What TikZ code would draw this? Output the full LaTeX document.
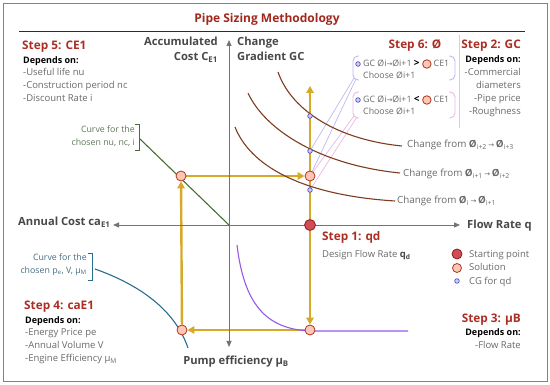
\documentclass[tikz,border=0pt]{standalone}
\usepackage{fontspec}
\setmainfont{Open Sans}
\newfontfamily\symf{DejaVu Sans}
\usetikzlibrary{arrows.meta,positioning}
\pgfdeclarelayer{bg}
\pgfsetlayers{bg,main}
\definecolor{titlered}{RGB}{160,40,30}
\definecolor{stepred}{RGB}{172,45,35}
\definecolor{rulebrown}{RGB}{60,40,30}
\definecolor{axisgray}{RGB}{115,115,115}
\definecolor{textgray}{RGB}{105,105,105}
\definecolor{axlabgray}{RGB}{72,72,72}
\definecolor{gold}{RGB}{214,170,40}
\definecolor{curvebrown}{RGB}{125,60,30}
\definecolor{lgreen}{RGB}{70,110,50}
\definecolor{tealc}{RGB}{40,110,140}
\definecolor{purp}{RGB}{150,90,230}
\definecolor{solfill}{RGB}{250,200,180}
\definecolor{soldraw}{RGB}{180,50,30}
\definecolor{startfill}{RGB}{210,75,85}
\definecolor{startdraw}{RGB}{140,30,30}
\definecolor{cgdraw}{RGB}{75,75,200}
\definecolor{cgfill}{RGB}{205,205,245}
\definecolor{lav}{RGB}{190,185,240}
\definecolor{pinkl}{RGB}{232,185,228}
\definecolor{framegray}{RGB}{130,130,130}
\definecolor{greentext}{RGB}{95,120,90}
\definecolor{tealtext}{RGB}{70,110,130}
\newcommand{\myarr}{{\symf\fontsize{7}{8}\selectfont →}}
\begin{document}
\begin{tikzpicture}[x=1pt,y=-1pt,
  txt/.style={inner sep=0pt, text height=0.75em, text depth=0.22em},
  axlab/.style={txt, font=\bfseries\fontsize{11.2}{13}\selectfont, text=axlabgray},
  steptitle/.style={txt, font=\bfseries\fontsize{11.8}{13}\selectfont, text=stepred},
  deps/.style={txt, font=\bfseries\fontsize{9}{11}\selectfont, text=black},
  item/.style={txt, font=\fontsize{9.5}{11}\selectfont, text=textgray},
  small/.style={txt, font=\fontsize{8.8}{10}\selectfont, text=textgray},
  chg/.style={txt, font=\fontsize{9.8}{11}\selectfont, text=textgray},
  axis/.style={draw=axisgray, line width=0.8pt, -{Triangle[length=6pt,width=5pt]}},
  ypath/.style={draw=gold, line width=2.4pt},
  yarr/.style={-{Triangle[length=7pt,width=7.5pt]}},
  sol/.style={circle, draw=soldraw, fill=solfill, line width=0.8pt, minimum size=10pt, inner sep=0pt},
  solsm/.style={circle, draw=soldraw, fill=solfill, line width=0.8pt, minimum size=8.5pt, inner sep=0pt},
  startpt/.style={circle, draw=startdraw, fill=startfill, line width=0.8pt, minimum size=11pt, inner sep=0pt},
  cg/.style={circle, draw=cgdraw, fill=cgfill, line width=0.7pt, minimum size=4.6pt, inner sep=0pt},
  crv/.style={line width=1.1pt}
]
\useasboundingbox (0,0) rectangle (550,385);
\draw[framegray, line width=0.8pt] (3,3) rectangle (547,381);

% title
\node[txt, font=\bfseries\fontsize{12}{14}\selectfont, text=titlered] (title) at (267,20) {Pipe Sizing Methodology};
\coordinate (rl) at (19,32);
\coordinate (rr) at (525,32);
\draw[rulebrown, line width=1pt] (rl) -- (rr);
\coordinate (dvt) at (459,35);
\coordinate (dvb) at (459,128);
\draw[gray!35, line width=0.8pt] (dvt) -- (dvb);

% axes
\coordinate (O) at (229,225);
\coordinate (axtop) at (229,40);
\coordinate (axbot) at (229,347);
\coordinate (axleft) at (113,225);
\coordinate (axright) at (460,225);
\draw[axis] (O) -- (axtop);
\draw[axis] (O) -- (axbot);
\draw[axis] (O) -- (axleft);
\draw[axis] (O) -- (axright);

\node[axlab, anchor=east] (accu) at (218,43) {Accumulated};
\node[axlab, anchor=east] (cost) at (218,58) {Cost C\textsubscript{E1}};
\node[axlab, anchor=west] (chg) at (237,43) {Change};
\node[axlab, anchor=west] (grad) at (237,58) {Gradient GC};
\node[axlab, anchor=west] (annual) at (18,223) {Annual Cost ca\textsubscript{E1}};
\node[axlab, anchor=west] (flow) at (467,226) {Flow Rate q};
\node[axlab] (pump) at (236,362) {Pump efficiency μ\textsubscript{B}};

% curves
\draw[curvebrown, crv] (278,72) .. controls (292,112) and (340,140) .. (402,146);
\draw[curvebrown, crv] (248,93) .. controls (265,130) and (320,165) .. (400,173);
\draw[curvebrown, crv] (235,127) .. controls (250,165) and (300,195) .. (395,201);
\node[chg, anchor=west] (c1) at (407,145) {Change from \textbf{Ø}\textsubscript{i+2}\,\myarr\,\textbf{Ø}\textsubscript{i+3}};
\node[chg, anchor=west] (c2) at (403,174) {Change from \textbf{Ø}\textsubscript{i+1}\,\myarr\,\textbf{Ø}\textsubscript{i+2}};
\node[chg, anchor=west] (c3) at (397,201) {Change from \textbf{Ø}\textsubscript{i}\,\myarr\,\textbf{Ø}\textsubscript{i+1}};

% green line
\coordinate (gs) at (140,139);
\draw[lgreen, crv] (gs) -- (O);
\draw[lgreen, line width=0.9pt] (135,124) -- (139,124) -- (139,150) -- (135,150);
\node[small, text=greentext, anchor=east] (g1) at (135,130) {Curve for the};
\node[small, text=greentext, anchor=east] (g2) at (135,143) {chosen nu, nc, i};

% teal curve
\draw[tealc, crv] (95,269) .. controls (140,285) and (175,310) .. (188,348);
\draw[tealc, line width=0.9pt] (88,253) -- (92,253) -- (92,280) -- (88,280);
\node[small, text=tealtext, anchor=east] (t1) at (87,258) {Curve for the};
\node[small, text=tealtext, anchor=east] (t2) at (87,271) {chosen p\textsubscript{e}, V, μ\textsubscript{M}};

% purple curve
\draw[purp, crv] (237,245) .. controls (244,303) and (265,329) .. (310,331) -- (408,331);

% points
\node[startpt] (S) at (310,225) {};
\node[sol] (P1) at (310,330) {};
\node[sol] (P2) at (182,330) {};
\node[sol] (P3) at (181,176) {};
\node[sol] (P4) at (310,176) {};
\node[cg] (B1) at (310,116) {};
\node[cg] (B2) at (310,151) {};
\node[cg] (B3) at (310,190) {};
\coordinate (T) at (310,86);

\begin{pgfonlayer}{bg}
\draw[ypath, yarr] (S) -- (T);
\draw[ypath, yarr] (S) -- (P1);
\draw[ypath, yarr] (P1) -- (P2);
\draw[ypath, yarr] (P2) -- (P3);
\draw[ypath, yarr] (P3) -- (P4);
\end{pgfonlayer}

% step 6 boxes
\draw[lav, line width=0.9pt, rounded corners=5pt] (359,56) -- (353,56) -- (353,80) -- (359,80);
\draw[lav, line width=0.9pt, rounded corners=5pt] (449,56) -- (455,56) -- (455,80) -- (449,80);
\draw[pinkl, line width=0.9pt, rounded corners=5pt] (359,92) -- (353,92) -- (353,118) -- (359,118);
\draw[pinkl, line width=0.9pt, rounded corners=5pt] (449,92) -- (455,92) -- (455,118) -- (449,118);
\coordinate (bx1) at (354,78);
\coordinate (bx1b) at (356,79);
\coordinate (bx2) at (354,116);
\coordinate (bx2b) at (357,117);
\begin{pgfonlayer}{bg}
\draw[lav, line width=0.7pt] (bx1) -- (B2.center);
\draw[lav, line width=0.7pt] (bx1b) -- (P4.center);
\draw[pinkl, line width=0.7pt] (bx2) -- (P4.center);
\draw[pinkl, line width=0.7pt] (bx2b) -- (B3.center);
\end{pgfonlayer}

\node[cg] (d1) at (358,64) {};
\node[small, anchor=west] (b1t) at (363,64) {GC Øi\myarr Øi+1 \textcolor{black}{\bfseries\fontsize{10}{10}\selectfont >}};
\node[solsm, right=2.5pt of b1t] (b1s) {};
\node[small, anchor=west, right=2pt of b1s] (b1c) {CE1};
\node[small, anchor=west] (b1d) at (363,76) {Choose Øi+1};

\node[cg] (d2) at (358,100) {};
\node[small, anchor=west] (b2t) at (363,100) {GC Øi\myarr Øi+1 \textcolor{black}{\bfseries\fontsize{10}{10}\selectfont <}};
\node[solsm, right=2.5pt of b2t] (b2s) {};
\node[small, anchor=west, right=2pt of b2s] (b2c) {CE1};
\node[small, anchor=west] (b2d) at (363,112) {Choose Øi+1};

% step 5
\node[steptitle, anchor=west] (s5) at (22,47) {Step 5: CE1};
\node[deps, anchor=west] (s5d) at (23,61) {Depends on:};
\node[item, anchor=west] (s5a) at (23,73) {-Useful life nu};
\node[item, anchor=west] (s5b) at (23,86) {-Construction period nc};
\node[item, anchor=west] (s5c) at (23,99) {-Discount Rate i};

% step 6
\node[steptitle] (s6) at (415,46) {Step 6: Ø};

% step 2
\node[steptitle, anchor=east] (s2) at (521,46) {Step 2: GC};
\node[deps, anchor=east] (s2d) at (521,60) {Depends on:};
\node[item, anchor=east] (s2a) at (521,73) {-Commercial};
\node[item, anchor=east] (s2b) at (521,86) {diameters};
\node[item, anchor=east] (s2c) at (521,99) {-Pipe price};
\node[item, anchor=east] (s2e) at (521,112) {-Roughness};

% step 1
\node[steptitle, anchor=west] (s1) at (322,238) {Step 1: qd};
\node[item, anchor=west] (s1a) at (322,255) {Design Flow Rate \textcolor{axlabgray}{\bfseries q\textsubscript{d}}};

% legend
\node[startpt, minimum size=10pt] (l1) at (457,254) {};
\node[sol, minimum size=9pt] (l2) at (457,268) {};
\node[cg] (l3) at (457,281) {};
\node[item, anchor=west] (l1t) at (469,255) {Starting point};
\node[item, anchor=west] (l2t) at (469,268) {Solution};
\node[item, anchor=west] (l3t) at (469,282) {CG for qd};

% step 3
\node[steptitle, anchor=east] (s3) at (521,320) {Step 3: μB};
\node[deps, anchor=east] (s3d) at (521,333) {Depends on:};
\node[item, anchor=east] (s3a) at (521,346) {-Flow Rate};

% step 4
\node[steptitle, anchor=west] (s4) at (24,307) {Step 4: caE1};
\node[deps, anchor=west] (s4d) at (25,321) {Depends on:};
\node[item, anchor=west] (s4a) at (25,333) {-Energy Price pe};
\node[item, anchor=west] (s4b) at (25,346) {-Annual Volume V};
\node[item, anchor=west] (s4c) at (25,359) {-Engine Efficiency μ\textsubscript{M}};
\end{tikzpicture}
\end{document}
